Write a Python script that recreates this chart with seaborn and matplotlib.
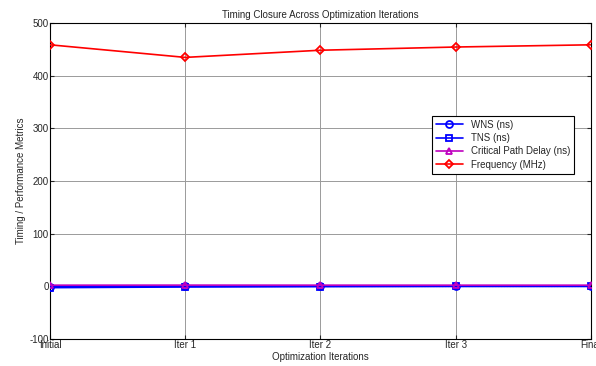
import numpy as np
import pandas as pd
import seaborn as sns
import matplotlib
matplotlib.use("Agg")
from matplotlib import pyplot as plt

iterations = ["Initial", "Iter 1", "Iter 2", "Iter 3", "Final"]
wns = [-0.35, -0.12, -0.05, 0.02, 0.05]
tns = [-2.5, -1.2, -0.4, 0.0, 0.0]
cpd = [2.18, 2.30, 2.23, 2.20, 2.18]
freq = [458.7, 434.8, 448.4, 454.5, 458.7]

series = ["WNS (ns)", "TNS (ns)", "Critical Path Delay (ns)", "Frequency (MHz)"]
colors = ["#0000ff", "#0000ff", "#bf00bf", "#ff0000"]
markers = ["o", "s", "^", "D"]
values = [wns, tns, cpd, freq]

sns.set_style("white")
plt.rcParams["font.family"] = ["Liberation Sans", "DejaVu Sans"]
plt.rcParams["axes.unicode_minus"] = False

fig = plt.figure(figsize=(5.96, 3.66), dpi=100)
ax = fig.add_axes([0.0839, 0.0738, 0.9077, 0.8632])

x = np.arange(len(iterations))
for name, c, m, v in zip(series, colors, markers, values):
    sns.lineplot(x=x, y=v, color=c, marker=m, markersize=5 if m != "D" else 4.5,
                 markerfacecolor="none", markeredgecolor=c, markeredgewidth=1.3,
                 linewidth=1.2, label=name, ax=ax, zorder=3)
ax.axhline(0, color="#999999", linestyle=":", linewidth=0.8, zorder=2)

ax.set_xlim(0, 4)
ax.set_ylim(-100, 500)
ax.set_xticks(x)
ax.set_xticklabels(iterations)
ax.set_yticks(range(-100, 501, 100))
ax.grid(True, color="#9a9a9a", linewidth=0.7)
ax.tick_params(direction="in", labelsize=7, length=3, pad=1,
               top=True, right=True, bottom=True, left=True)
for s in ax.spines.values():
    s.set_color("black")
    s.set_linewidth(0.8)

ax.set_title("Timing Closure Across Optimization Iterations", fontsize=7, pad=4)
ax.set_xlabel("Optimization Iterations", fontsize=7, labelpad=1)
ax.set_ylabel("Timing / Performance Metrics", fontsize=7, labelpad=2)

leg = ax.legend(loc="upper left", bbox_to_anchor=(0.697, 0.722), fontsize=7,
                frameon=True, fancybox=False, edgecolor="black", framealpha=1,
                handlelength=2.8, borderpad=0.4, labelspacing=0.35)
leg.get_frame().set_linewidth(0.8)

fig.savefig("out.png", dpi=100)
